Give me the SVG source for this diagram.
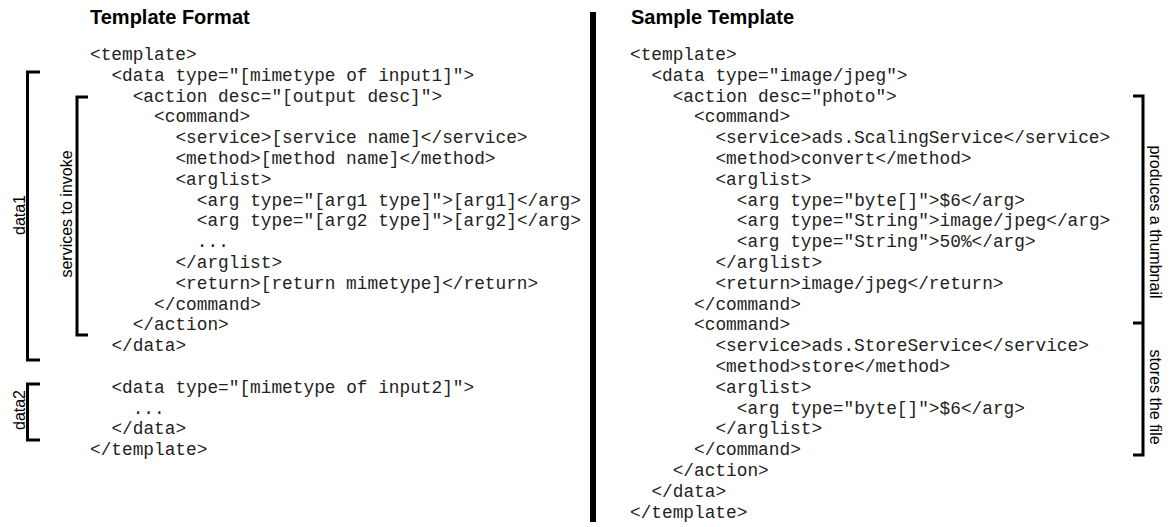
<svg xmlns="http://www.w3.org/2000/svg" width="1170" height="527" viewBox="0 0 1170 527">
<style>
.t{font-family:"Liberation Sans",Arial,sans-serif;font-weight:bold;font-size:20px;fill:#000}
.c{font-family:"Liberation Mono","Courier New",monospace;font-size:17.8px;fill:#222}
.l{font-family:"Liberation Sans",Arial,sans-serif;font-size:16px;fill:#000}
.b{fill:none;stroke:#000;stroke-width:3}
</style>
<rect width="1170" height="527" fill="#fff"/>
<g id="template-format">
<text class="t" x="90" y="24">Template Format</text>
<text class="c" x="90" y="60">&lt;template&gt;</text>
<text class="c" x="111.4" y="80.8">&lt;data type="[mimetype of input1]"&gt;</text>
<text class="c" x="132.7" y="101.6">&lt;action desc="[output desc]"&gt;</text>
<text class="c" x="154.1" y="122.4">&lt;command&gt;</text>
<text class="c" x="175.4" y="143.2">&lt;service&gt;[service name]&lt;/service&gt;</text>
<text class="c" x="175.4" y="164">&lt;method&gt;[method name]&lt;/method&gt;</text>
<text class="c" x="175.4" y="184.8">&lt;arglist&gt;</text>
<text class="c" x="196.8" y="205.6">&lt;arg type="[arg1 type]"&gt;[arg1]&lt;/arg&gt;</text>
<text class="c" x="196.8" y="226.4">&lt;arg type="[arg2 type]"&gt;[arg2]&lt;/arg&gt;</text>
<text class="c" x="196.8" y="247.2">...</text>
<text class="c" x="175.4" y="268">&lt;/arglist&gt;</text>
<text class="c" x="175.4" y="288.8">&lt;return&gt;[return mimetype]&lt;/return&gt;</text>
<text class="c" x="154.1" y="309.6">&lt;/command&gt;</text>
<text class="c" x="132.7" y="330.4">&lt;/action&gt;</text>
<text class="c" x="111.4" y="351.2">&lt;/data&gt;</text>
<text class="c" x="111.4" y="392.8">&lt;data type="[mimetype of input2]"&gt;</text>
<text class="c" x="132.7" y="413.6">...</text>
<text class="c" x="111.4" y="434.4">&lt;/data&gt;</text>
<text class="c" x="90" y="455.2">&lt;/template&gt;</text>
</g>
<g id="sample-template">
<text class="t" x="631" y="24">Sample Template</text>
<text class="c" x="630" y="60">&lt;template&gt;</text>
<text class="c" x="651.4" y="80.8">&lt;data type="image/jpeg"&gt;</text>
<text class="c" x="672.7" y="101.6">&lt;action desc="photo"&gt;</text>
<text class="c" x="694.1" y="122.4">&lt;command&gt;</text>
<text class="c" x="715.4" y="143.2">&lt;service&gt;ads.ScalingService&lt;/service&gt;</text>
<text class="c" x="715.4" y="164">&lt;method&gt;convert&lt;/method&gt;</text>
<text class="c" x="715.4" y="184.8">&lt;arglist&gt;</text>
<text class="c" x="736.8" y="205.6">&lt;arg type="byte[]"&gt;$6&lt;/arg&gt;</text>
<text class="c" x="736.8" y="226.4">&lt;arg type="String"&gt;image/jpeg&lt;/arg&gt;</text>
<text class="c" x="736.8" y="247.2">&lt;arg type="String"&gt;50%&lt;/arg&gt;</text>
<text class="c" x="715.4" y="268">&lt;/arglist&gt;</text>
<text class="c" x="715.4" y="288.8">&lt;return&gt;image/jpeg&lt;/return&gt;</text>
<text class="c" x="694.1" y="309.6">&lt;/command&gt;</text>
<text class="c" x="694.1" y="330.4">&lt;command&gt;</text>
<text class="c" x="715.4" y="351.2">&lt;service&gt;ads.StoreService&lt;/service&gt;</text>
<text class="c" x="715.4" y="372">&lt;method&gt;store&lt;/method&gt;</text>
<text class="c" x="715.4" y="392.8">&lt;arglist&gt;</text>
<text class="c" x="736.8" y="413.6">&lt;arg type="byte[]"&gt;$6&lt;/arg&gt;</text>
<text class="c" x="715.4" y="434.4">&lt;/arglist&gt;</text>
<text class="c" x="694.1" y="455.2">&lt;/command&gt;</text>
<text class="c" x="672.7" y="476">&lt;/action&gt;</text>
<text class="c" x="651.4" y="496.8">&lt;/data&gt;</text>
<text class="c" x="630" y="517.6">&lt;/template&gt;</text>
</g>
<g id="divider">
<rect x="590" y="12" width="6" height="510" fill="#000"/>
</g>
<g id="connectors">
<path class="b" d="M40,72 H27.5 V360 H40"/>
<path class="b" d="M88,97 H77 V335 H88"/>
<path class="b" d="M40,384 H27.5 V440 H40"/>
<path class="b" d="M1133,96 H1143 V455 H1133"/>
<path class="b" d="M1133,323 H1143"/>
</g>
<g id="label-data1"><text class="l" transform="translate(25,215) rotate(-90)" text-anchor="middle">data1</text></g>
<g id="label-services"><text class="l" transform="translate(72,214) rotate(-90)" text-anchor="middle">services to invoke</text></g>
<g id="label-data2"><text class="l" transform="translate(25,410) rotate(-90)" text-anchor="middle">data2</text></g>
<g id="label-thumbnail"><text class="l" transform="translate(1150,222) rotate(90)" text-anchor="middle">produces a thumbnail</text></g>
<g id="label-store"><text class="l" transform="translate(1150,397) rotate(90)" text-anchor="middle">stores the file</text></g>
</svg>
